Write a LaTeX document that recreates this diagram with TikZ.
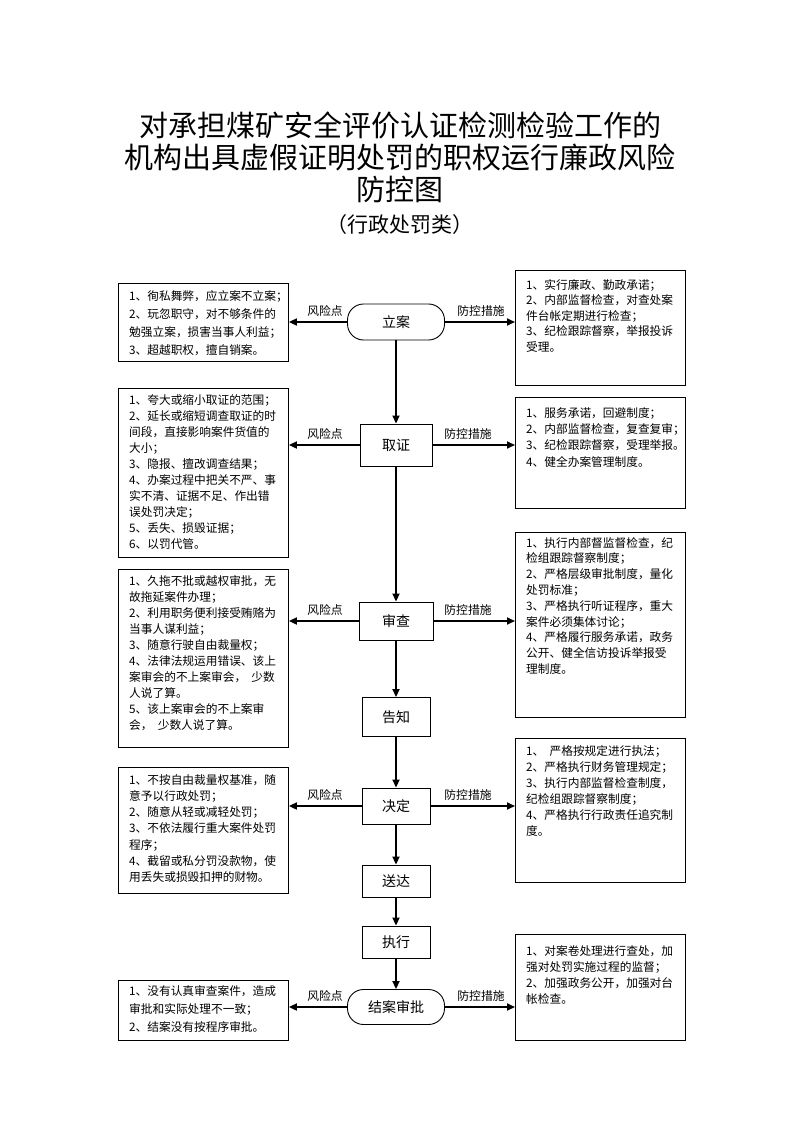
\documentclass[tikz,border=0pt]{standalone}
\usepackage{fontspec}
\setmainfont{Noto Sans CJK SC}
\usetikzlibrary{arrows.meta}
\tikzset{
  box/.style={draw, line width=0.9pt, anchor=north west, inner sep=0pt, minimum width=170pt},
  boxtext/.style={anchor=north west, align=left, inner sep=0pt, font=\fontsize{11.7}{#1}\selectfont},
  stage/.style={draw, line width=0.9pt, inner sep=0pt, font=\fontsize{14}{16}\selectfont},
  term/.style={stage, rounded corners=16pt, minimum width=97pt},
  arr/.style={line width=1.8pt, -{Triangle[length=8pt,width=7pt]}},
  lab/.style={font=\fontsize{11.8}{14}\selectfont, inner sep=0pt, anchor=base}
}
\begin{document}
\begin{tikzpicture}[x=1pt,y=-1pt]
\useasboundingbox (0,0) rectangle (794,1123);
% title
\node[font=\fontsize{29}{32}\selectfont, align=center] (title) at (400,157) {对承担煤矿安全评价认证检测检验工作的\\[0pt]机构出具虚假证明处罚的职权运行廉政风险\\防控图};
\node[font=\fontsize{21}{22}\selectfont] (sub) at (400,225) {（行政处罚类）};

% stages
\node[term, minimum height=36pt] (lian) at (396,322) {立案};
\node[stage, minimum width=72pt, minimum height=42pt] (qz) at (396,445) {取证};
\node[stage, minimum width=74pt, minimum height=38pt] (sc) at (396,621) {审查};
\node[stage, minimum width=68pt, minimum height=39pt] (gz) at (396,717) {告知};
\node[stage, minimum width=68pt, minimum height=36pt] (jd) at (396,806) {决定};
\node[stage, minimum width=68pt, minimum height=32pt] (sd) at (396,881) {送达};
\node[stage, minimum width=68pt, minimum height=32pt] (zx) at (396,942) {执行};
\node[term, minimum height=35pt] (ja) at (396,1007) {结案审批};

% boxes left
\node[box, minimum height=78pt] (l1) at (118,283) {};
\node[boxtext=18] (l1t) at (129,290) {1、徇私舞弊，应立案不立案；\\2、玩忽职守，对不够条件的\\勉强立案，损害当事人利益；\\3、超越职权，擅自销案。};
\node[box, minimum height=169pt] (l2) at (118,388) {};
\node[boxtext=16.1] (l2t) at (129,394) {1、夸大或缩小取证的范围；\\2、延长或缩短调查取证的时\\间段，直接影响案件货值的\\大小；\\3、隐报、擅改调查结果；\\4、办案过程中把关不严、事\\实不清、证据不足、作出错\\误处罚决定；\\5、丢失、损毁证据；\\6、以罚代管。};
\node[box, minimum height=178pt] (l3) at (118,569) {};
\node[boxtext=16] (l3t) at (129,575) {1、久拖不批或越权审批，无\\故拖延案件办理；\\2、利用职务便利接受贿赂为\\当事人谋利益；\\3、随意行驶自由裁量权；\\4、法律法规运用错误、该上\\案审会的不上案审会，\ \ 少数\\人说了算。\\5、该上案审会的不上案审\\会，\ \ 少数人说了算。};
\node[box, minimum height=126pt] (l4) at (118,767) {};
\node[boxtext=16.3] (l4t) at (129,774) {1、不按自由裁量权基准，随\\意予以行政处罚；\\2、随意从轻或减轻处罚；\\3、不依法履行重大案件处罚\\程序；\\4、截留或私分罚没款物，使\\用丢失或损毁扣押的财物。};
\node[box, minimum height=60pt] (l5) at (118,980) {};
\node[boxtext=18] (l5t) at (129,985) {1、没有认真审查案件，造成\\审批和实际处理不一致；\\2、结案没有按程序审批。};

% boxes right
\node[box, minimum height=115pt] (r1) at (515,270) {};
\node[boxtext=15.6] (r1t) at (526,279) {1、实行廉政、勤政承诺；\\2、内部监督检查，对查处案\\件台帐定期进行检查；\\3、纪检跟踪督察，举报投诉\\受理。};
\node[box, minimum height=111pt] (r2) at (515,397) {};
\node[boxtext=16.4] (r2t) at (526,407) {1、服务承诺，回避制度；\\2、内部监督检查，复查复审；\\3、纪检跟踪督察，受理举报。\\4、健全办案管理制度。};
\node[box, minimum height=185pt] (r3) at (515,532) {};
\node[boxtext=15.8] (r3t) at (526,537) {1、执行内部督监督检查，纪\\检组跟踪督察制度；\\2、严格层级审批制度，量化\\处罚标准；\\3、严格执行听证程序，重大\\案件必须集体讨论；\\4、严格履行服务承诺，政务\\公开、健全信访投诉举报受\\理制度。};
\node[box, minimum height=144pt] (r4) at (515,738) {};
\node[boxtext=16] (r4t) at (526,745) {1、\ \ 严格按规定进行执法；\\2、严格执行财务管理规定；\\3、执行内部监督检查制度，\\纪检组跟踪督察制度；\\4、严格执行行政责任追究制\\度。};
\node[box, minimum height=106pt] (r5) at (515,934) {};
\node[boxtext=16.2] (r5t) at (526,945) {1、对案卷处理进行查处，加\\强对处罚实施过程的监督；\\2、加强政务公开，加强对台\\帐检查。};

% vertical flow
\draw[arr] (lian) -- (qz);
\draw[arr] (qz) -- (sc);
\draw[arr] (sc) -- (gz);
\draw[arr] (gz) -- (jd);
\draw[arr] (jd) -- (sd);
\draw[arr] (sd) -- (zx);
\draw[arr] (zx) -- (ja);

% horizontal arrows with labels
\coordinate (lx) at (325,0);
\coordinate (rxa) at (481,0);
\coordinate (rxb) at (468,0);
\foreach \s/\l/\r/\rx in {lian/l1/r1/rxa, qz/l2/r2/rxb, sc/l3/r3/rxb, jd/l4/r4/rxb, ja/l5/r5/rxa}{
  \draw[arr] (\s.west) -- (\s.west -| \l.east);
  \draw[arr] (\s.east) -- (\s.east -| \r.west);
  \node[lab] at ([yshift=7pt]\s.west -| lx) {风险点};
  \node[lab] at ([yshift=7pt]\s.east -| \rx) {防控措施};
}
\end{tikzpicture}
\end{document}
